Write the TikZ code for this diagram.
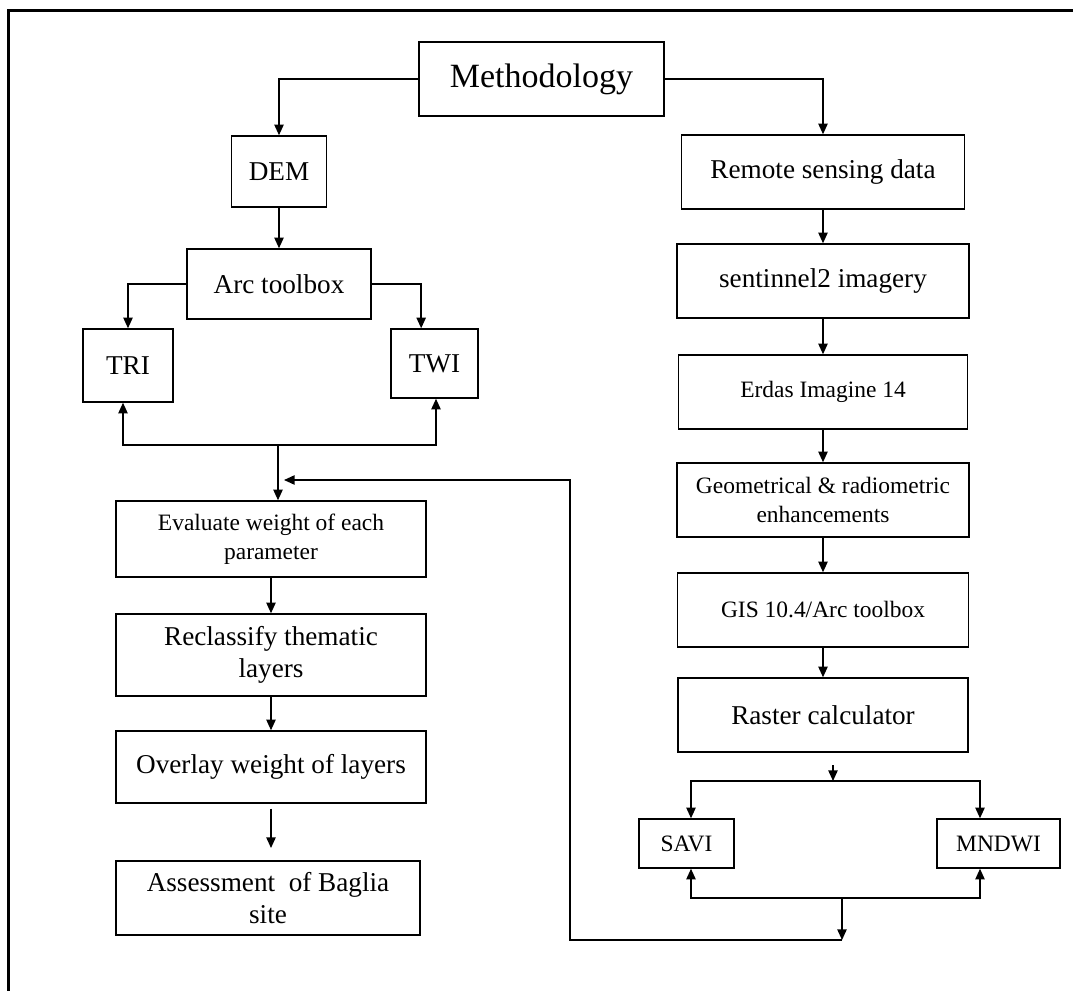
\documentclass[tikz,border=0pt]{standalone}
\usepackage{fontspec}
\setmainfont{Liberation Serif}
\usetikzlibrary{arrows.meta}

\begin{document}
\begin{tikzpicture}[x=0.75pt,y=-0.75pt,line width=1.1pt,
        >={Triangle[length=8pt,width=7pt]},
        bx/.style 2 args={draw,align=center,inner sep=0pt,
            minimum width=#1*0.75pt,minimum height=#2*0.75pt},
        bigtxt/.style={font=\fontsize{25.5}{30}\selectfont},
        midtxt/.style={font=\fontsize{20.4}{24}\selectfont},
        smalltxt/.style={font=\fontsize{17.6}{22}\selectfont}]

  \useasboundingbox (0,0) rectangle (1073,991);
  \draw[line width=2.25pt] (8,991) -- (8,11) -- (1073,11);

  \node[bx={245}{74},bigtxt] (meth) at (541.5,79) {Methodology};

  % left branch
  \node[bx={95}{71},midtxt] (dem) at (279,171.5) {DEM};
  \node[bx={184}{70},midtxt] (arc) at (279,284) {Arc toolbox};
  \node[bx={90}{73},midtxt] (tri) at (128,365.5) {TRI};
  \node[bx={87}{69},midtxt] (twi) at (434.5,363.5) {TWI};
  \node[bx={310}{76},smalltxt] (eval) at (271,539) {Evaluate weight of each\\parameter};
  \node[bx={310}{82},midtxt] (recl) at (271,655) {Reclassify thematic\\layers};
  \node[bx={310}{72},midtxt] (over) at (271,767) {Overlay weight of layers};
  \node[bx={304}{74},midtxt] (asse) at (268,898) {Assessment\ \ of Baglia\\site};

  % right branch
  \node[bx={283}{74},midtxt] (rsd) at (823,172) {Remote sensing data};
  \node[bx={292}{74},midtxt] (sent) at (823,281) {sentinnel2 imagery};
  \node[bx={289}{74},smalltxt] (erd) at (823,392) {Erdas Imagine 14};
  \node[bx={292}{74},smalltxt] (geo) at (823,500) {Geometrical \& radiometric\\enhancements};
  \node[bx={291}{74},smalltxt] (gis) at (823,610) {GIS 10.4/Arc toolbox};
  \node[bx={290}{74},midtxt] (ras) at (823,715) {Raster calculator};
  \node[bx={95}{49},smalltxt] (savi) at (686.5,843.5) {SAVI};
  \node[bx={123}{49},smalltxt] (mndwi) at (998.5,843.5) {MNDWI};

  \coordinate (jl) at (123,445);
  \coordinate (jm) at (278,445);
  \coordinate (jr) at (436,445);
  \coordinate (ot) at (271,848);
  \coordinate (rs) at (833,765);
  \coordinate (sl) at (691,781);
  \coordinate (sm) at (833,781);
  \coordinate (sr) at (980,781);
  \coordinate (bl) at (691,898);
  \coordinate (bm) at (842,898);
  \coordinate (br) at (980,898);
  \coordinate (fc) at (842,940);
  \coordinate (fl) at (570,480);
  \coordinate (fe) at (284,480);

  \path[->] (dem)  edge (arc)
            (eval) edge (recl)
            (recl) edge (over)
            (rsd)  edge (sent)
            (sent) edge (erd)
            (erd)  edge (geo)
            (geo)  edge (gis)
            (gis)  edge (ras);

  \draw[->] (meth.west) -| (dem.north);
  \draw[->] (meth.east) -| (rsd.north);
  \draw[->] (arc.west) -| (tri.north);
  \draw[->] (arc.east) -| ([xshift=-10pt]twi.north);
  \draw[<->] (tri.south -| jl) |- (jr) -- (jr |- twi.south);
  \draw[->] (jm) -- (jm |- eval.north);
  \draw[->] ([yshift=-3.75pt]over.south) -- (ot);

  \draw[->] (rs) -- (sm);
  \draw[<->] (sl |- savi.north) |- (sr) -- (sr |- mndwi.north);
  \draw[<->] (bl |- savi.south) |- (br) -- (br |- mndwi.south);
  \draw[->] (bm) -- (fc);
  \draw[->] (fc) -| (fl) -- (fe);

\end{tikzpicture}
\end{document}
